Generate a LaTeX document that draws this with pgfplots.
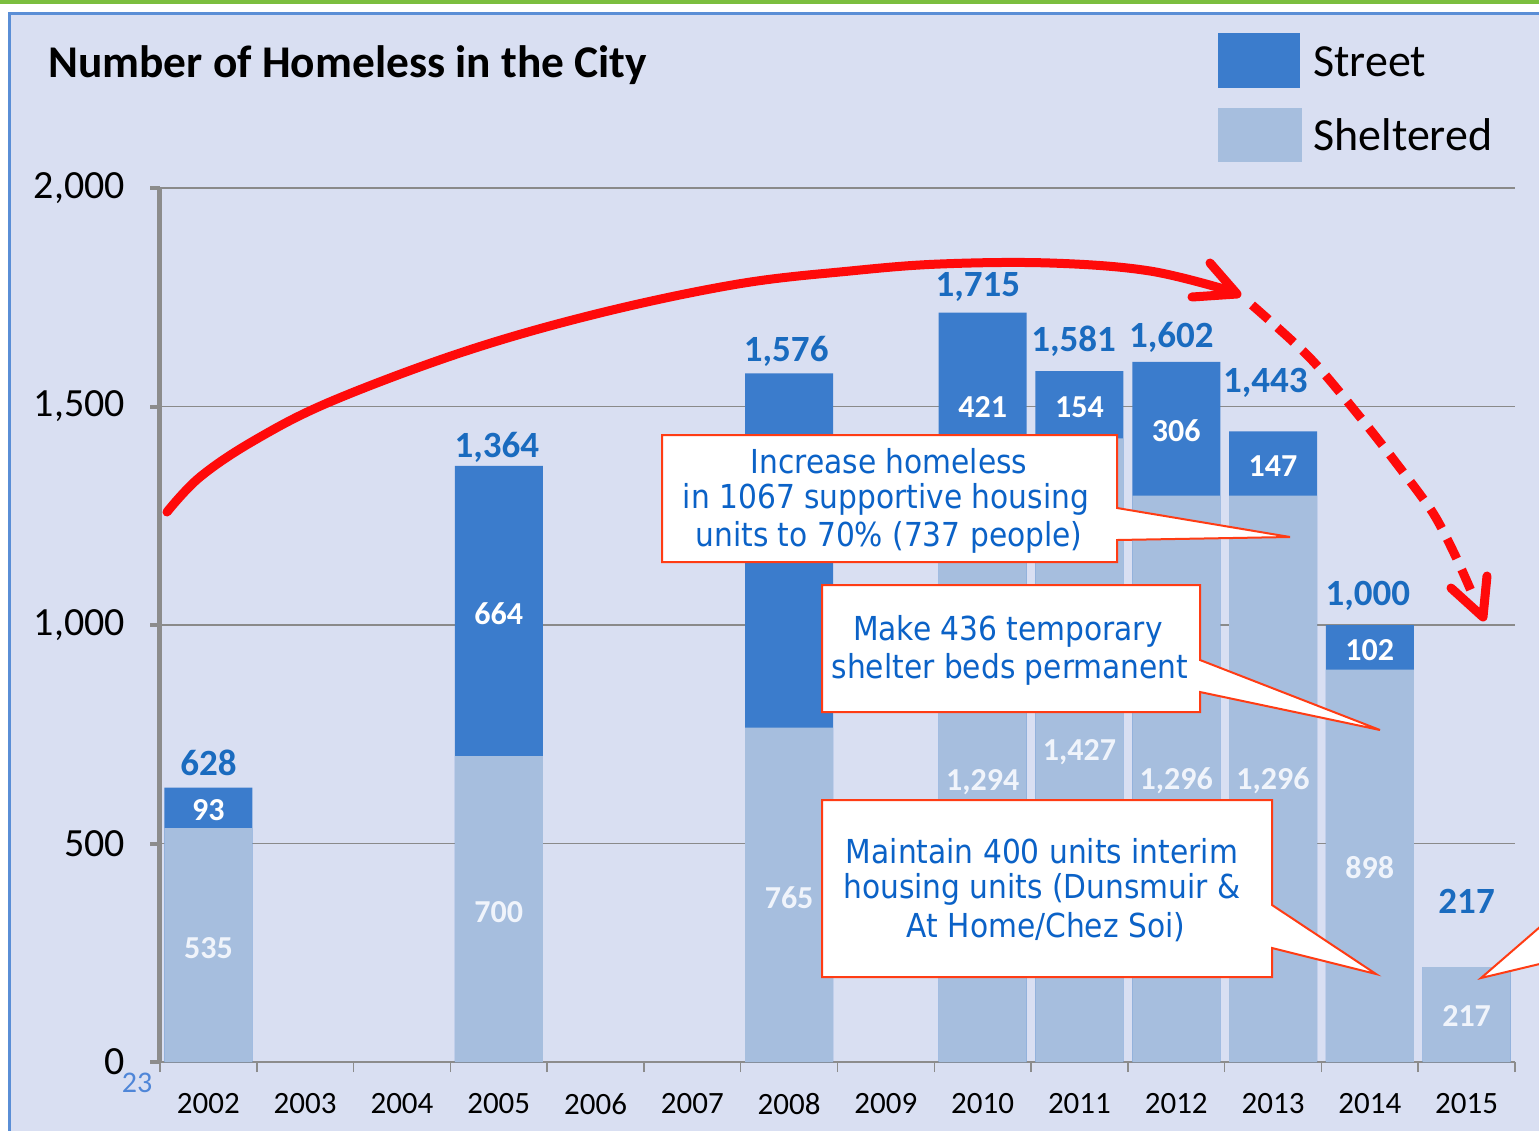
\documentclass[border=0pt]{standalone}
\usepackage{pgfplots}
\pgfplotsset{compat=1.18}
\usepackage{fontspec}
\setmainfont{Carlito}
\newfontfamily\callfont{DejaVu Sans Condensed}
\definecolor{bg}{RGB}{217,223,242}
\definecolor{street}{RGB}{59,124,204}
\definecolor{shelt}{RGB}{166,190,222}
\definecolor{lblue}{RGB}{26,107,191}
\definecolor{ctext}{RGB}{11,98,199}
\definecolor{cborder}{RGB}{255,60,20}
\definecolor{arrred}{RGB}{255,10,10}
\definecolor{topgreen}{RGB}{123,190,62}
\definecolor{bordblue}{RGB}{90,142,214}
\definecolor{gridgray}{RGB}{138,138,138}
\definecolor{axgray}{RGB}{140,140,140}
\definecolor{pagenum}{RGB}{79,134,216}
\definecolor{palewhite}{RGB}{240,244,251}

\pgfplotstableread{
year street shelt total
2002 93 535 628
2005 664 700 1364
2008 811 765 1576
2010 421 1294 1715
2011 154 1427 1581
2012 306 1296 1602
2013 147 1296 1443
2014 102 898 1000
2015 0 217 217
}\datatab

\begin{document}
\begin{tikzpicture}
\begin{scope}[x=0.5pt,y=-0.5pt]
\path[use as bounding box] (0,0) rectangle (1539,1131);
\fill[white] (0,0) rectangle (1539,1131);
\fill[topgreen] (0,0) rectangle (1539,4);
\filldraw[fill=bg, draw=bordblue, line width=1.5pt] (9,13) rectangle (1570,1160);
\node[anchor=west, inner sep=0pt, font=\fontsize{22.7}{26}\selectfont\bfseries] at (48,65) {Number of Homeless in the City};
\fill[street] (1218,33) rectangle (1300,88);
\fill[shelt] (1218,108) rectangle (1302,162);
\node[anchor=west, inner sep=0pt, font=\fontsize{23}{27}\selectfont] at (1313,62) {Street};
\node[anchor=west, inner sep=0pt, font=\fontsize{23}{27}\selectfont] at (1313,135) {Sheltered};
\end{scope}

\begin{axis}[at={(80pt,-531pt)}, anchor=south west, scale only axis,
  width=677.5pt, height=437pt,
  xmin=2001.5, xmax=2015.5, ymin=0, ymax=2000,
  axis lines*=left,
  x axis line style={axgray, line width=0.75pt},
  y axis line style={axgray, line width=2.5pt},
  tick align=outside, major tick length=5pt,
  xtick={2001.5,2002.5,...,2015.5}, xticklabels={},
  extra x ticks={2002,2003,...,2015},
  extra x tick labels={2002,2003,2004,2005,2006,2007,2008,2009,2010,2011,2012,2013,2014,2015},
  extra x tick style={tick style={draw=none}, grid=none},
  xtick style={axgray, line width=0.75pt},
  ytick={0,500,1000,1500,2000},
  yticklabels={0,500,{1,000},{1,500},{2,000}},
  ytick style={axgray, line width=2pt},
  ymajorgrids, major grid style={gridgray, line width=0.75pt},
  xticklabel style={font=\fontsize{15.5}{18}\selectfont, yshift=-7pt},
  yticklabel style={font=\fontsize{20}{22}\selectfont, xshift=-9pt},
  clip=false,
]
\addplot[ybar, bar width=44pt, bar shift=0pt, fill=street, draw=none] table[x=year, y=total] {\datatab};
\addplot[ybar, bar width=44pt, bar shift=0pt, fill=shelt, draw=none] table[x=year, y=shelt] {\datatab};
% total labels
\addplot[draw=none, mark=none, nodes near coords, point meta=explicit symbolic,
  nodes near coords style={anchor=center, inner sep=0pt, text=lblue, font=\fontsize{18.5}{21}\selectfont\bfseries}]
  table[x=x, y=y, meta=lab] {
x y lab
2002 684 628
2004.98 1407 1,364
2007.97 1627 1,576
2009.95 1773 1,715
2010.94 1650 1,581
2011.95 1659 1,602
2012.92 1554 1,443
2013.98 1066 1,000
2015 368 217
};
% street labels
\addplot[draw=none, mark=none, nodes near coords, point meta=explicit symbolic,
  nodes near coords style={anchor=center, inner sep=0pt, text=white, font=\fontsize{16}{19}\selectfont\bfseries}]
  table[x=x, y=y, meta=lab] {
x y lab
2002 577 93
2005 1027 664
2010 1499 421
2011 1499 154
2012 1444 306
2013 1364 147
2014 943 102
};
% sheltered labels
\addplot[draw=none, mark=none, nodes near coords, point meta=explicit symbolic,
  nodes near coords style={anchor=center, inner sep=0pt, text=palewhite, font=\fontsize{16}{19}\selectfont\bfseries}]
  table[x=x, y=y, meta=lab] {
x y lab
2002 261 535
2005 343 700
2008 375 765
2010 641 1,294
2011 709 1,427
2012 643 1,296
2013 643 1,296
2014 444 898
2015 105 217
};
\end{axis}

\begin{scope}[x=0.5pt,y=-0.5pt]
\clip (0,0) rectangle (1539,1131);
\node[inner sep=0pt, text=pagenum, font=\fontsize{15}{17}\selectfont] at (137,1083) {23};
% red arrow
\draw[arrred, line width=4.5pt, line cap=round] plot[smooth, tension=0.6] coordinates {(167,512) (200,477) (255,440) (332,401) (466,351) (600,313) (738,284) (850,271) (940,264) (1050,263) (1150,271) (1234,292)};
\draw[arrred, line width=4.5pt, line cap=round, line join=round] (1210,263) -- (1237,294) -- (1192,297);
\draw[arrred, line width=4.5pt, dash pattern=on 11pt off 6pt] plot[smooth] coordinates {(1252,305) (1310,358) (1360,417) (1400,468) (1433,513) (1455,555) (1475,600)};
\draw[arrred, line width=4.5pt, line cap=round, line join=round] (1487,576) -- (1483,617) -- (1451,588);
% callouts
\filldraw[fill=white, draw=cborder, line width=1pt] (662,435) -- (1117,435) -- (1117,508) -- (1290,537) -- (1117,540) -- (1117,562) -- (662,562) -- cycle;
\filldraw[fill=white, draw=cborder, line width=1pt] (822,585) -- (1200,585) -- (1200,660) -- (1380,730) -- (1200,692) -- (1200,712) -- (822,712) -- cycle;
\filldraw[fill=white, draw=cborder, line width=1pt] (822,800) -- (1272,800) -- (1272,905) -- (1376,974) -- (1272,948) -- (1272,977) -- (822,977) -- cycle;
\filldraw[fill=white, draw=cborder, line width=1pt] (1548,920) -- (1481,978) -- (1548,962);
\begin{scope}[every node/.style={inner sep=0pt, text=ctext, font=\callfont\fontsize{16.5}{19}\selectfont}]
\node at (889,461) {Increase homeless};
\node at (886,499) {in 1067 supportive housing};
\node at (889,537) {units to 70\% (737 people)};
\node at (1008,631) {Make 436 temporary};
\node at (1010,669) {shelter beds permanent};
\node at (1042,851) {Maintain 400 units interim};
\node at (1042,889) {housing units (Dunsmuir \&};
\node at (1046,927) {At Home/Chez Soi)};
\end{scope}
\end{scope}
\end{tikzpicture}
\end{document}
